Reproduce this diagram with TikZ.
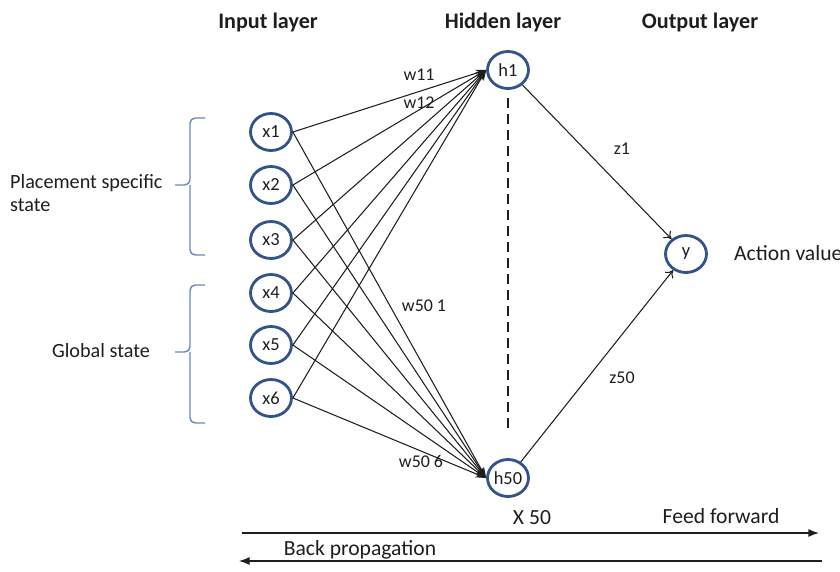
\documentclass[tikz,border=0pt]{standalone}
\usepackage{fontspec}
\setmainfont{Carlito}
\usepackage{tikz}
\usepackage{xcolor}
\definecolor{nodeblue}{RGB}{50, 84, 138}
\definecolor{braceblue}{RGB}{100, 138, 186}
\definecolor{inkgray}{RGB}{30, 30, 30}
\usetikzlibrary{shapes.geometric,calc,positioning,arrows.meta}

\tikzset{
    neuron/.style={ellipse, draw=nodeblue, line width=1.6pt, fill=white,
        minimum width=0.82cm, minimum height=0.74cm, inner sep=0pt,
        text=inkgray, font=\fontsize{10.5}{11}\selectfont},
    layertitle/.style={text=inkgray, font=\fontsize{12.6}{14}\selectfont\bfseries},
    weightlabel/.style={text=inkgray, font=\fontsize{10.2}{11}\selectfont},
    sidelabel/.style={text=inkgray, font=\fontsize{11.5}{13.5}\selectfont, align=left},
    biglabel/.style={text=inkgray, font=\fontsize{12.3}{14}\selectfont},
    wire/.style={inkgray, line width=0.6pt, -{Stealth[length=6pt,width=4pt]}},
    outwire/.style={inkgray, line width=0.6pt, -{To[length=4pt,width=6pt]}},
    flow/.style={inkgray, line width=0.7pt, -{Latex[length=6pt,width=4.5pt]}},
    groupbrace/.style={braceblue, line width=0.8pt, rounded corners=3pt}
}

\begin{document}
\begin{tikzpicture}[x=0.02cm, y=-0.02cm]
    \useasboundingbox (0, 0) rectangle (840, 572);

    % Layer titles
    \node[layertitle] (tin)  at (268, 22) {Input layer};
    \node[layertitle] (thid) at (503, 22) {Hidden layer};
    \node[layertitle] (tout) at (700, 22) {Output layer};

    % Input neurons
    \foreach \i/\yy in {1/132, 2/185, 3/240, 4/293, 5/345, 6/398} {
        \node[neuron] (x\i) at (271, \yy) {x\i};
    }

    % Hidden and output neurons
    \node[neuron] (h1)  at (508, 70)  {h1};
    \node[neuron] (h50) at (508, 478) {h50};
    \node[neuron] (y)   at (686, 254) {y};

    % Fully connected weights
    \foreach \i in {1,...,6} {
        \draw[wire] (x\i.east) -- (h1.west);
        \draw[wire] (x\i.east) -- (h50.west);
    }

    % Hidden units in between
    \draw[inkgray, line width=1.1pt, dash pattern=on 5.7pt off 3.4pt,
        shorten <=0.16cm, shorten >=0.54cm] (h1.south) -- (h50.north);

    % Output weights
    \draw[outwire] (h1) -- (y);
    \draw[outwire] (h50) -- (y);

    % Weight labels
    \node[weightlabel] (w11)  at (419, 75)  {w11};
    \node[weightlabel] (w12)  at (419, 103) {w12};
    \node[weightlabel] (w501) at (424, 306) {w50 1};
    \node[weightlabel] (w506) at (421, 462) {w50 6};
    \node[weightlabel] (z1)   at (622, 149) {z1};
    \node[weightlabel] (z50)  at (622, 378) {z50};

    \node[biglabel, anchor=west] (act) at (728, 253) {Action value};
    \node[biglabel] (times) at (532, 518) {X 50};

    % State groups
    \foreach \top/\mid/\bot in {118/185/255, 285/352/423} {
        \draw[groupbrace] (205, \top) -| (190, \mid) -- (175, \mid);
        \draw[groupbrace] (205, \bot) -| (190, \mid);
    }
    \node[sidelabel, anchor=west] (place) at (4, 193) {Placement specific\\state};
    \node[sidelabel] (glob) at (101, 351) {Global state};

    % Training directions
    \coordinate (ffa) at (242, 533);
    \coordinate (ffb) at (819, 533);
    \coordinate (bpa) at (822, 561);
    \coordinate (bpb) at (239, 561);
    \draw[flow] (ffa) -- (ffb);
    \draw[flow] (bpa) -- (bpb);
    \node[biglabel] (ff) at (721, 516) {Feed forward};
    \node[biglabel] (bp) at (360, 550) {Back propagation};
\end{tikzpicture}
\end{document}
